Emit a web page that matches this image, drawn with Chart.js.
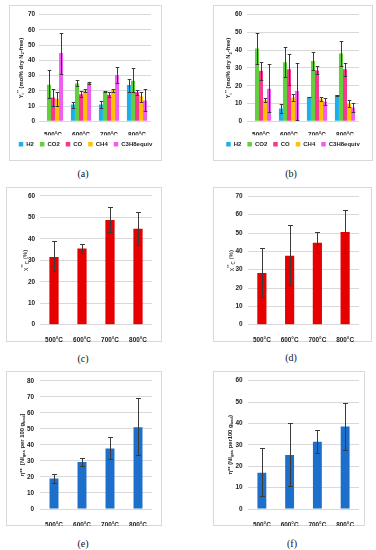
<!DOCTYPE html>
<html><head><meta charset="utf-8">
<script src="https://cdn.jsdelivr.net/npm/chart.js@4.4.1/dist/chart.umd.min.js"></script>
<style>
html,body{margin:0;padding:0;background:#fff;}
body{width:376px;height:550px;position:relative;overflow:hidden;}
.box{position:absolute;box-sizing:border-box;border:1px solid #d9d9d9;}
canvas{position:absolute;}
.cap{position:absolute;font-family:"Liberation Serif","DejaVu Serif",serif;font-size:10px;color:#111;transform:translate(-50%,-50%);white-space:nowrap;}
</style></head><body>
<script>
// ---------- data ----------
const categories = ['500°C', '600°C', '700°C', '800°C'];
const seriesNames = ['H2', 'CO2', 'CO', 'CH4', 'C3H8equiv'];

// panel (a)
const aH2   = [null, 11, 11, 23.8];
const aH2Err = [null, [8.5, 13], [8.5, 13.5], [19.5, 28]];
const aCO2  = [24, 24.9, 19.4, 26.6];
const aCO2Err = [[15.5, 33.5], [23, 27], [19, 20], [19.5, 35]];
const aCO   = [15.6, 17.7, 17.5, 19];
const aCOErr = [[10, 21.5], [16, 20], [16, 19], [17.5, 20.5]];
const aCH4  = [14.8, 20, 20.5, 16.4];
const aCH4Err = [[10, 19], [19, 21.5], [19.5, 21.5], [13, 19.5]];
const aC3H8 = [44.9, 25.3, 30.4, 13.7];
const aC3H8Err = [[31, 58], [24.5, 26], [25, 35.6], [7, 21]];

// panel (b)
const bH2   = [null, 7.2, 13.6, 14.8];
const bH2Err = [null, [4.5, 10], [13.4, 13.8], [14.5, 15]];
const bCO2  = [41, 33.3, 34, 38.1];
const bCO2Err = [[32.5, 49.5], [25, 42], [29, 39], [31, 45.2]];
const bCO   = [28.5, 29.3, 28.6, 29.3];
const bCOErr = [[23.5, 33.6], [20.5, 38], [26.5, 31], [25.5, 33]];
const bCH4  = [11.9, 13.4, 12.7, 9.8];
const bCH4Err = [[11, 13], [11.5, 15.5], [11.5, 13.5], [8, 12]];
const bC3H8 = [18.3, 17, 11, 7.8];
const bC3H8Err = [[5, 32], [1, 33], [9, 13], [5, 10.5]];

// panels (c)-(f)
const cVals = [31.5, 35.5, 48.8, 44.7];
const cErr  = [[25, 38.8], [33.5, 37.7], [43, 55], [37.2, 52.7]];
const dVals = [28.2, 37.6, 44.7, 50.6];
const dErr  = [[15, 41.6], [21.5, 54.4], [38.9, 50.6], [38.9, 62.6]];
const eVals = [19.1, 29.3, 37.8, 51.1];
const eErr  = [[16.4, 21.6], [26.8, 31.8], [31.2, 45.1], [33.7, 69]];
const fVals = [17, 25.2, 31.5, 38.6];
const fErr  = [[5.9, 28.4], [10.9, 40], [26.3, 36.8], [27.6, 49.7]];

const axisMax = {a: 70, b: 60, c: 60, d: 70, e: 80, f: 60};
const captions = {a: '(a)', b: '(b)', c: '(c)', d: '(d)', e: '(e)', f: '(f)'};

// ---------- styles ----------
const seriesColors = ['#1cb0e8', '#62cf3e', '#f8388f', '#ffc107', '#ee5ef0'];
const RED = '#e60000', BLUE = '#1c6fca';
const FONT = '"Liberation Sans", Arial, sans-serif';
const TXT = '#222';

const titleY  = [['Y',''],['i','sub'],['**','sup'],[' (mol% dry N',''],['2','sub'],['-free)','']];
const titleX  = [['χ',''],['**','sup'],['C','sub'],[' (%)','']];
const titleEta= [['η**  [Nl',''],['gas','sub'],[' per 100 g',''],['bed','sub'],[']','']];
const titleEtaF= [['η** (Nl',''],['gas','sub'],[' per100 g',''],['bed','sub'],[')','']];

const errorBars = {
  id: 'errorBars',
  afterDatasetsDraw(chart) {
    const ctx = chart.ctx, ys = chart.scales.y;
    chart.data.datasets.forEach((ds, i) => {
      if (!ds.err) return;
      const meta = chart.getDatasetMeta(i);
      meta.data.forEach((bar, j) => {
        const e = ds.err[j]; if (!e) return;
        const x = Math.round(bar.x) + 0.5;
        const y1 = Math.round(ys.getPixelForValue(e[0])) + 0.5;
        const y2 = Math.round(ys.getPixelForValue(e[1])) + 0.5;
        const w = chart.options.capW;
        ctx.save(); ctx.strokeStyle = '#3a3a3a'; ctx.lineWidth = 1;
        ctx.beginPath();
        ctx.moveTo(x, y1); ctx.lineTo(x, y2);
        ctx.moveTo(x - w, y1); ctx.lineTo(x + w, y1);
        ctx.moveTo(x - w, y2); ctx.lineTo(x + w, y2);
        ctx.stroke(); ctx.restore();
      });
    });
  }
};

const yTitle = {
  id: 'yTitle',
  afterDraw(chart) {
    const o = chart.options.yTitleCfg; if (!o) return;
    const ctx = chart.ctx, ca = chart.chartArea;
    const fs = o.size, weight = o.bold ? 'bold ' : '';
    const fontFor = t => weight + (t ? fs * 0.72 : fs) + 'px ' + FONT;
    ctx.save();
    let total = 0;
    o.segs.forEach(s => { ctx.font = fontFor(s[1]); total += ctx.measureText(s[0]).width; });
    ctx.translate(o.x, (ca.top + ca.bottom) / 2);
    ctx.rotate(-Math.PI / 2);
    ctx.fillStyle = TXT; ctx.textBaseline = 'alphabetic';
    let cx = -total / 2;
    o.segs.forEach(s => {
      ctx.font = fontFor(s[1]);
      const dy = s[1] === 'sub' ? fs * 0.25 : s[1] === 'sup' ? -fs * 0.4 : 0;
      ctx.fillText(s[0], cx, fs * 0.36 + dy);
      cx += ctx.measureText(s[0]).width;
    });
    ctx.restore();
  }
};

function makePanel(p) {
  const [bx, by, bw, bh] = p.box;
  const box = document.createElement('div');
  box.className = 'box';
  Object.assign(box.style, {left: bx + 'px', top: by + 'px', width: bw + 'px', height: bh + 'px'});
  const cv = document.createElement('canvas');
  cv.width = bw; cv.height = bh;
  Object.assign(cv.style, {left: bx + 'px', top: by + 'px', width: bw + 'px', height: bh + 'px'});
  const cap = document.createElement('div');
  cap.className = 'cap'; cap.textContent = p.caption;
  Object.assign(cap.style, {left: p.cap[0] + 'px', top: p.cap[1] + 'px'});
  document.body.append(box, cv, cap);

  const padT = p.plot.t - by;
  const padR = bx + bw - p.plot.r;
  const yw = p.plot.l - bx;
  const plotH = p.plot.b - p.plot.t;
  let xH, padB;
  if (p.legend) {
    xH = p.xH;
    const legendH = 2 * p.lp + Math.max(p.lfs, p.lbox);
    padB = bh - padT - plotH - xH - legendH;
  } else {
    xH = by + bh - p.plot.b; padB = 0;
  }
  const tickFont = {family: FONT, size: 6.4, weight: 'bold'};
  new Chart(cv, {
    type: 'bar',
    data: {labels: categories, datasets: p.datasets},
    options: {
      responsive: false, animation: false, devicePixelRatio: 1,
      capW: p.capW,
      yTitleCfg: {x: p.titleX - bx, segs: p.title, size: p.titleSize, bold: p.titleBold},
      layout: {padding: {left: 0, top: padT, right: 0, bottom: padB}},
      plugins: {
        legend: p.legend ? {
          display: true, position: 'bottom',
          labels: {boxWidth: p.lbox, boxHeight: p.lbox, padding: p.lp, color: TXT,
                   font: {family: FONT, size: p.lfs, weight: 'bold'}}
        } : {display: false},
        tooltip: {enabled: false}
      },
      datasets: {bar: {categoryPercentage: p.catPct, barPercentage: 1, borderWidth: 0}},
      scales: {
        x: {
          grid: {display: false}, border: {display: false},
          ticks: {font: tickFont, color: TXT, padding: p.xPad, maxRotation: 0},
          afterFit(s) { s.height = xH; }
        },
        y: {
          min: 0, max: p.max,
          ticks: {stepSize: 10, font: tickFont, color: TXT, padding: p.yPad},
          grid: {color: '#d9d9d9', drawTicks: false, lineWidth: 1},
          border: {display: false},
          afterFit(s) { s.width = yw; }
        },
        yRight: {
          position: 'right', min: 0, max: p.max,
          ticks: {display: false}, grid: {display: false}, border: {display: false},
          afterFit(s) { s.width = padR; }
        }
      }
    },
    plugins: [errorBars, yTitle]
  });
}

function groupSets(vals, errs) {
  return seriesNames.map((n, i) => ({label: n, data: vals[i], err: errs[i], backgroundColor: seriesColors[i]}));
}

makePanel({
  box: [9, 5, 153, 156], plot: {l: 39, r: 151, t: 14.7, b: 125.3},
  max: axisMax.a, caption: captions.a, cap: [83, 173],
  datasets: groupSets([aH2, aCO2, aCO, aCH4, aC3H8], [aH2Err, aCO2Err, aCOErr, aCH4Err, aC3H8Err]),
  legend: true, xH: 14, lp: 6, lfs: 6, lbox: 4.5, catPct: 0.72, capW: 1.8,
  xPad: 2, yPad: 4, title: titleY, titleX: 20.7, titleSize: 5.8, titleBold: true
});
makePanel({
  box: [213, 5, 160, 156], plot: {l: 247, r: 359, t: 14.7, b: 125.3},
  max: axisMax.b, caption: captions.b, cap: [291, 173],
  datasets: groupSets([bH2, bCO2, bCO, bCH4, bC3H8], [bH2Err, bCO2Err, bCOErr, bCH4Err, bC3H8Err]),
  legend: true, xH: 14, lp: 6, lfs: 6, lbox: 4.5, catPct: 0.72, capW: 1.8,
  xPad: 2, yPad: 5, title: titleY, titleX: 228, titleSize: 5.8, titleBold: true
});
makePanel({
  box: [6, 187, 156, 155], plot: {l: 40, r: 152, t: 195.7, b: 324.7},
  max: axisMax.c, caption: captions.c, cap: [83, 358],
  datasets: [{label: 'c', data: cVals, err: cErr, backgroundColor: RED}],
  legend: false, catPct: 0.33, capW: 2.5,
  xPad: 3.5, yPad: 5, title: titleX, titleX: 25, titleSize: 6.2, titleBold: false
});
makePanel({
  box: [213, 187, 159, 155], plot: {l: 248, r: 359, t: 195.7, b: 324.7},
  max: axisMax.d, caption: captions.d, cap: [291, 357],
  datasets: [{label: 'd', data: dVals, err: dErr, backgroundColor: RED}],
  legend: false, catPct: 0.33, capW: 2.5,
  xPad: 3.5, yPad: 5.5, title: titleX, titleX: 231, titleSize: 6.2, titleBold: false
});
makePanel({
  box: [6, 371, 156, 155], plot: {l: 40, r: 152, t: 380.7, b: 509},
  max: axisMax.e, caption: captions.e, cap: [83, 543],
  datasets: [{label: 'e', data: eVals, err: eErr, backgroundColor: BLUE}],
  legend: false, catPct: 0.32, capW: 2.5,
  xPad: 4, yPad: 6, title: titleEta, titleX: 21.7, titleSize: 5.8, titleBold: true
});
makePanel({
  box: [213, 371, 152, 155], plot: {l: 248, r: 359, t: 380.7, b: 509},
  max: axisMax.f, caption: captions.f, cap: [292, 543],
  datasets: [{label: 'f', data: fVals, err: fErr, backgroundColor: BLUE}],
  legend: false, catPct: 0.32, capW: 2.5,
  xPad: 4, yPad: 5.5, title: titleEtaF, titleX: 229.7, titleSize: 5.8, titleBold: true
});
</script>
</body></html>
